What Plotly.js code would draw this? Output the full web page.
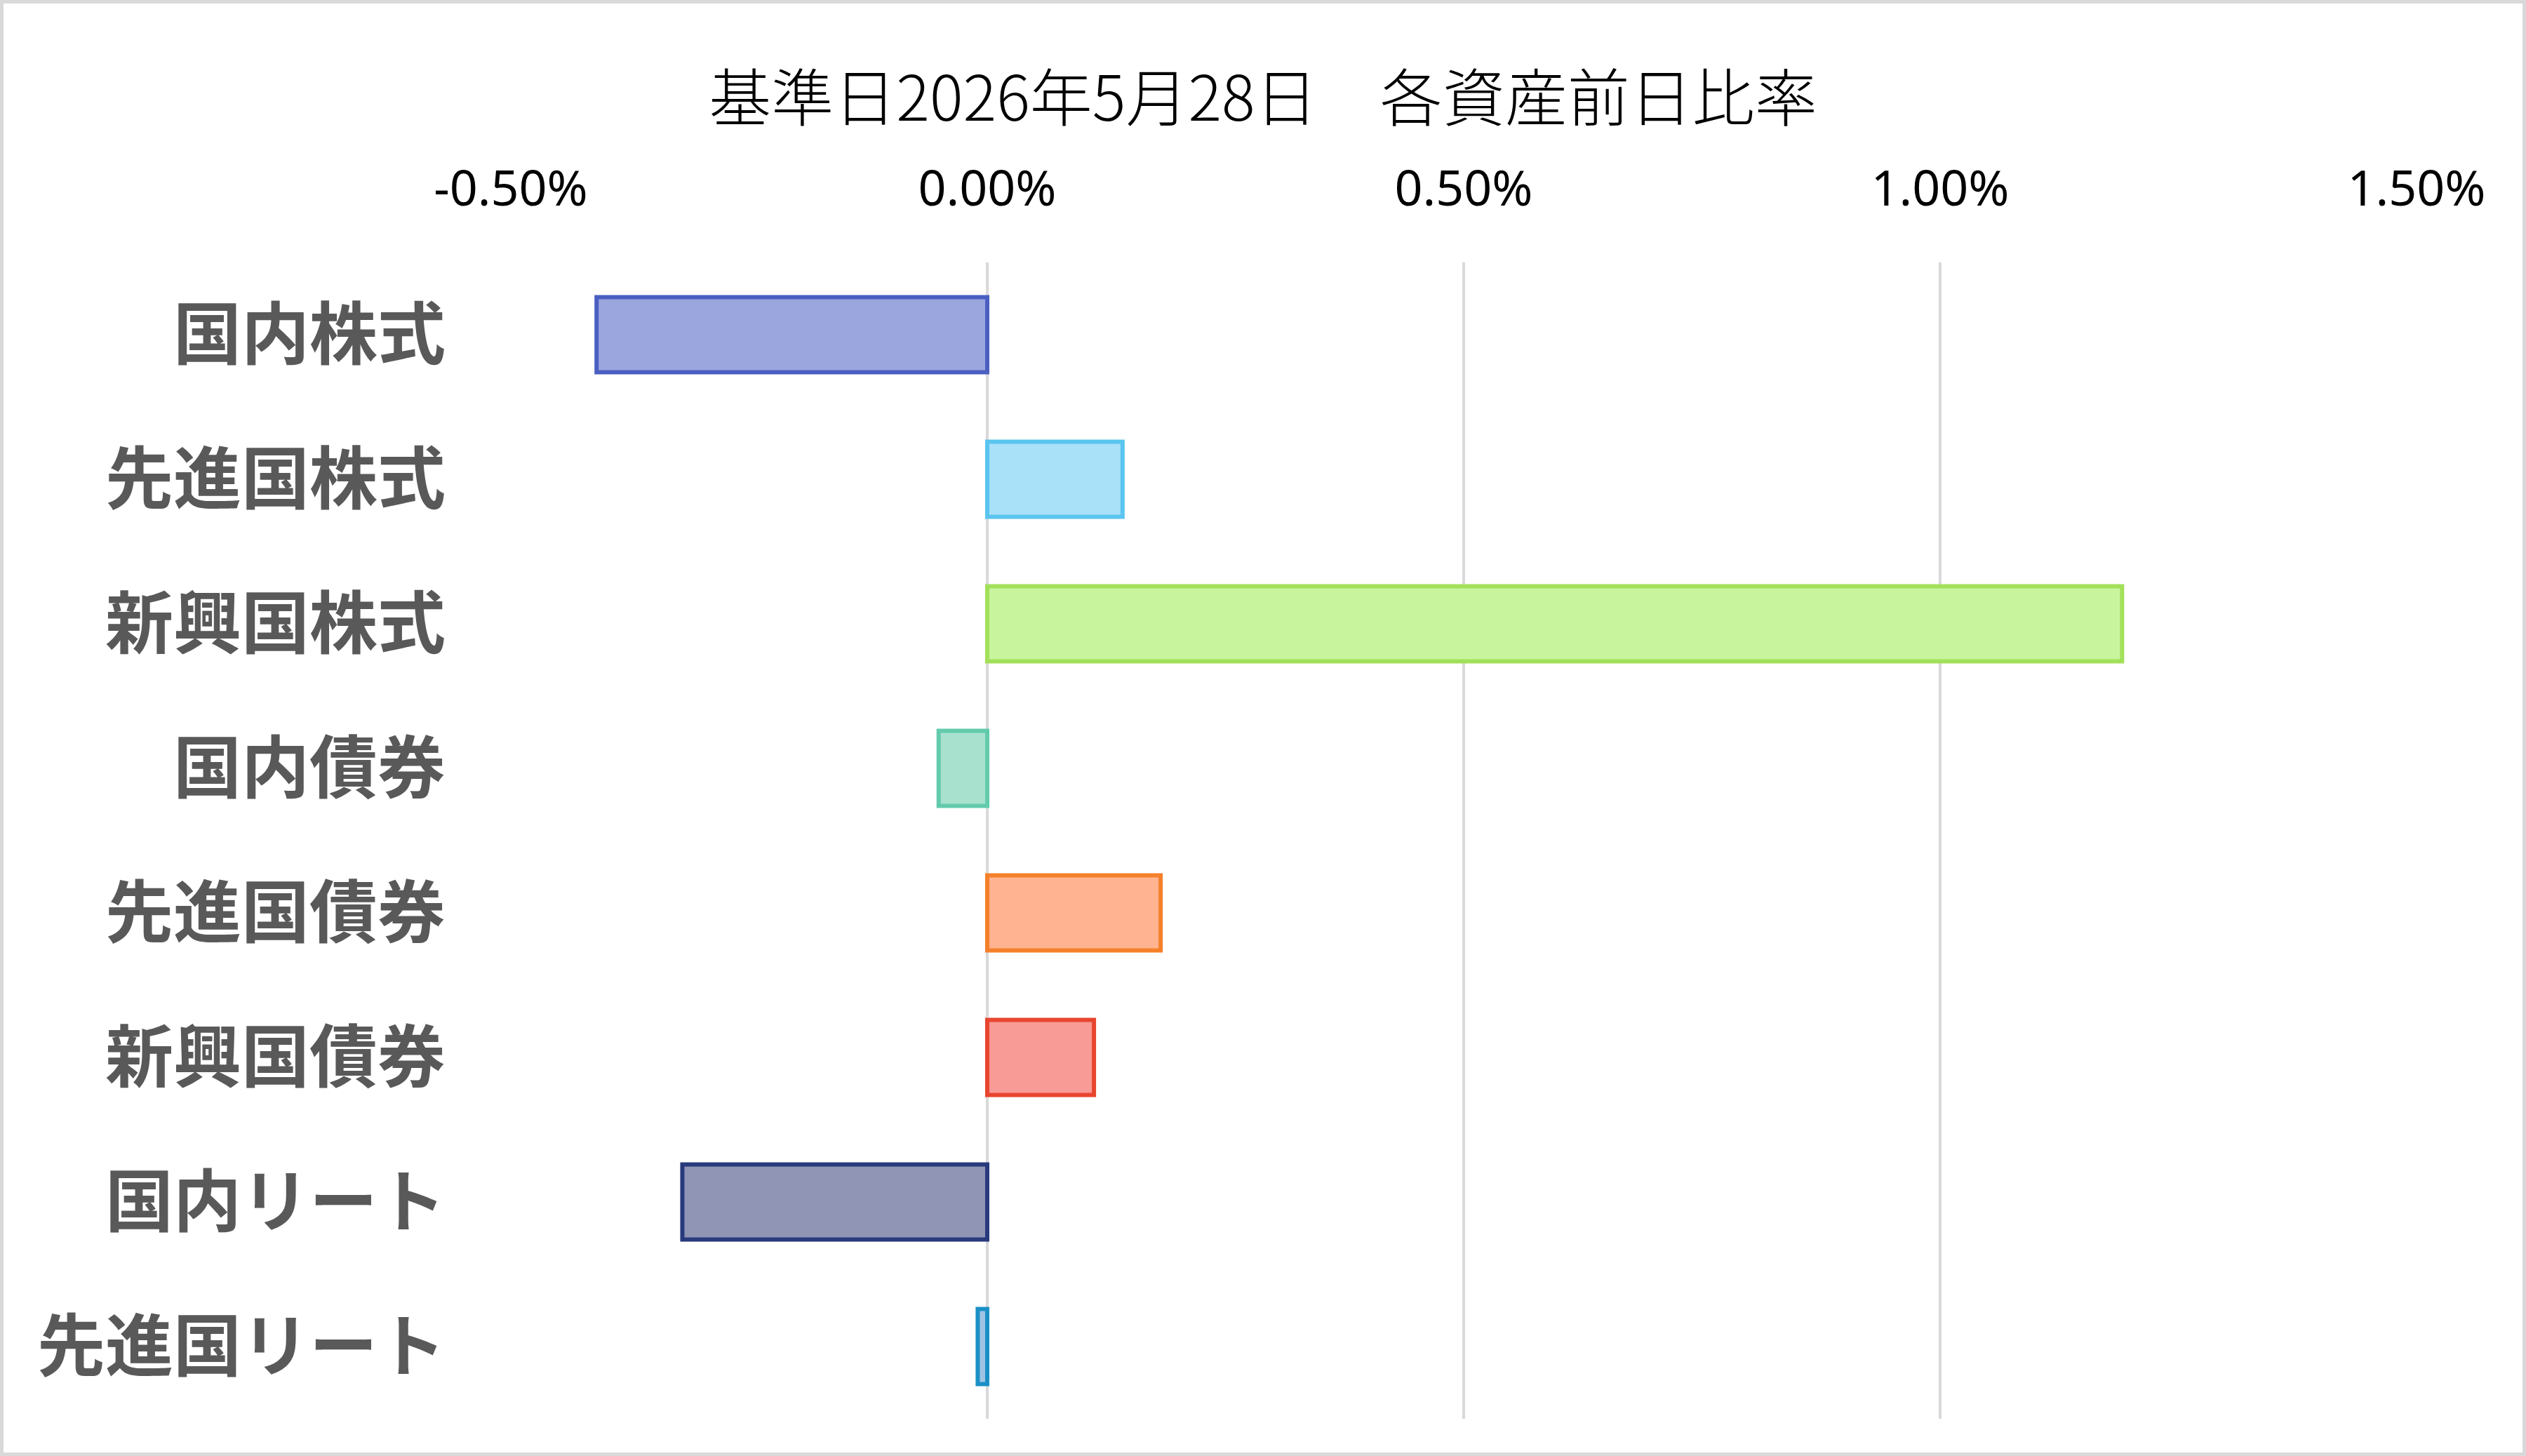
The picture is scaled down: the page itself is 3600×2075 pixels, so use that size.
<!DOCTYPE html>
<html>
<head>
<meta charset="utf-8">
<script src="https://cdn.plot.ly/plotly-3.0.1.min.js"></script>
<style>
  html, body { margin: 0; padding: 0; background: #ffffff; }
  #wrap { position: relative; width: 3600px; height: 2075px; }
  #chart { position: absolute; left: 0; top: 0; width: 3600px; height: 2075px; }
  #frame { position: absolute; left: 0; top: 0; width: 3600px; height: 2075px; box-sizing: border-box; border: 5px solid #d9d9d9; pointer-events: none; }
</style>
</head>
<body>
<div id="wrap"><div id="chart"></div><div id="frame"></div></div>
<script>
// Data (percent, 前日比率)
const categories = ['国内株式', '先進国株式', '新興国株式', '国内債券', '先進国債券', '新興国債券', '国内リート', '先進国リート'];
const values = [-0.41, 0.142, 1.191, -0.051, 0.182, 0.112, -0.32, -0.010];
const fillColors = ['#9ca6de', '#a9e1f9', '#c8f49e', '#a8e2cf', '#ffb390', '#f89a95', '#9094b5', '#9fc4e3'];
const lineColors = ['#4a5fc1', '#5ac5ef', '#a3e05a', '#62cbac', '#f5802a', '#e8452f', '#283a7c', '#1a90c6'];
const tickValues = [-0.5, 0, 0.5, 1.0, 1.5];
const tickLabels = ['-0.50%', '0.00%', '0.50%', '1.00%', '1.50%'];
const titleText = '基準日2026年5月28日　各資産前日比率';

const trace = {
  type: 'bar',
  orientation: 'h',
  y: categories,
  x: values,
  marker: { color: fillColors, line: { color: lineColors, width: 6 } },
  hoverinfo: 'skip'
};

const layout = {
  width: 3600,
  height: 2075,
  paper_bgcolor: '#ffffff',
  plot_bgcolor: '#ffffff',
  margin: { l: 728, r: 156, t: 374, b: 53, pad: 0 },
  bargap: 0.48,
  showlegend: false,
  title: {
    text: titleText,
    x: 0.5, xref: 'container', xanchor: 'center',
    y: 1 - 141 / 2075, yref: 'container', yanchor: 'middle',
    font: { family: '"Noto Sans CJK JP", "Noto Sans", sans-serif', size: 89, color: '#000000', weight: 300 }
  },
  xaxis: {
    side: 'top',
    range: [-0.5, 1.5],
    tickvals: tickValues,
    ticktext: tickLabels,
    ticks: '',
    ticklabelstandoff: 66,
    showgrid: true,
    gridcolor: '#d9d9d9',
    gridwidth: 4,
    zeroline: true,
    zerolinecolor: '#d9d9d9',
    zerolinewidth: 4,
    showline: false,
    tickfont: { family: '"Noto Sans", "Open Sans", sans-serif', size: 70, color: '#000000' },
    fixedrange: true
  },
  yaxis: {
    type: 'category',
    autorange: 'reversed',
    ticks: '',
    showgrid: false,
    zeroline: false,
    showline: false,
    ticklabelstandoff: 92,
    tickfont: { family: '"Noto Sans CJK JP", sans-serif', size: 97, color: '#595959', weight: 700 },
    fixedrange: true
  }
};

Plotly.newPlot('chart', [trace], layout, { displayModeBar: false, staticPlot: true });
</script>
</body>
</html>
